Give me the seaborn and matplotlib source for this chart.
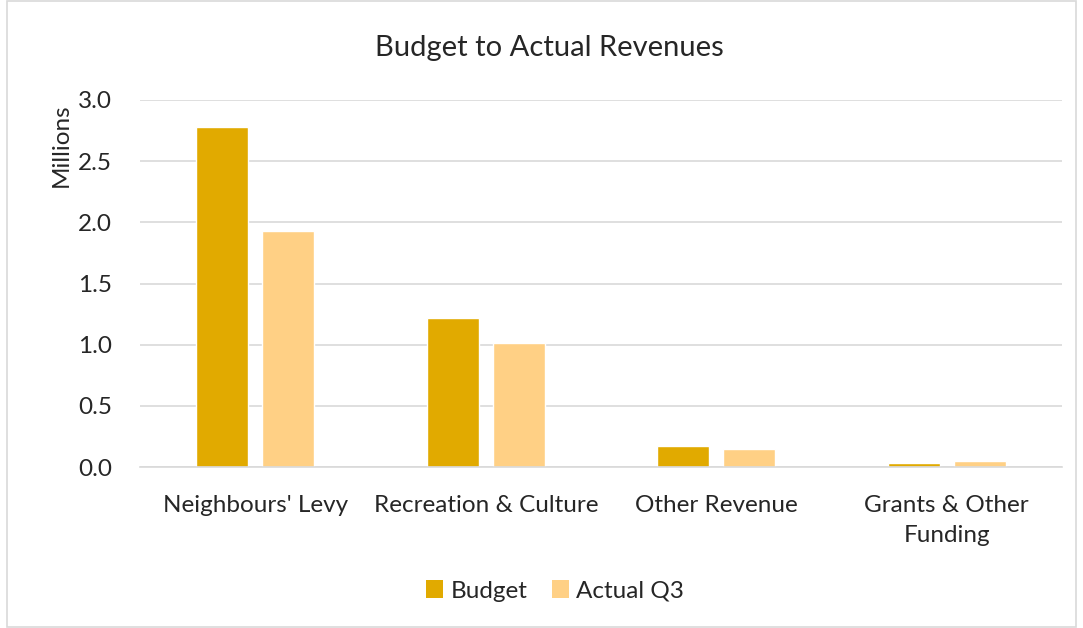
import matplotlib
matplotlib.use("Agg")
import matplotlib.pyplot as plt
import seaborn as sns
import pandas as pd
from matplotlib.patches import Patch

categories = ["Neighbours' Levy", "Recreation & Culture", "Other Revenue", "Grants & Other\nFunding"]
budget = [2.78, 1.22, 0.175, 0.03]
actual_q3 = [1.93, 1.01, 0.145, 0.047]
series = ["Budget", "Actual Q3"]
colors = ["#E1AA00", "#FFD085"]
yticks = [0.0, 0.5, 1.0, 1.5, 2.0, 2.5, 3.0]

df = pd.DataFrame({
    "Category": categories * 2,
    "Value": budget + actual_q3,
    "Series": [series[0]] * len(categories) + [series[1]] * len(categories),
})

sns.set_theme(style="white")
plt.rcParams['font.family'] = ['Lato', 'DejaVu Sans']

fig = plt.figure(figsize=(10.83, 6.28), dpi=100)
ax = fig.add_axes([140 / 1083, 1 - 467 / 628, (1062 - 140) / 1083, (467 - 100) / 628])

sns.barplot(data=df, x="Category", y="Value", hue="Series", palette=colors,
            width=0.573, gap=0.21, ax=ax, legend=False, saturation=1)

ax.set_ylim(0, 3.0)
ax.set_yticks(yticks)
ax.set_yticklabels([f"{t:.1f}" for t in yticks], fontsize=17.5)
ax.set_xlim(-0.5, len(categories) - 0.5)
ax.tick_params(axis="x", labelsize=17.5, length=0, pad=20)
ax.tick_params(axis="y", length=0, pad=20)
for lbl in ax.get_xticklabels():
    lbl.set_linespacing(1.55)
ax.yaxis.grid(True, color="#D9D9D9", linewidth=1.2)
ax.set_axisbelow(True)
for s in ["top", "right", "left"]:
    ax.spines[s].set_visible(False)
ax.spines["bottom"].set_color("#D9D9D9")
ax.spines["bottom"].set_linewidth(1.2)
ax.set_xlabel("")
ax.set_ylabel("Millions", fontsize=17.5)
ax.yaxis.set_label_coords(-0.074, 0.878)

fig.text(549 / 1083, 1 - 48 / 628, "Budget to Actual Revenues", ha="center", va="center", fontsize=21)

handles = [Patch(facecolor=c, edgecolor="none") for c in colors]
fig.legend(handles, series, loc="center", bbox_to_anchor=(555 / 1083, 1 - 591 / 628),
           ncol=2, frameon=False, fontsize=17.5, handlelength=0.7, handleheight=0.7,
           handletextpad=0.3, columnspacing=1.0)

border = plt.Rectangle((7 / 1083, 0.002), 1 - 14 / 1083, 1 - 0.004, transform=fig.transFigure,
                       fill=False, edgecolor="#D9D9D9", linewidth=1.2)
fig.add_artist(border)

fig.savefig("out.png", dpi=100)
